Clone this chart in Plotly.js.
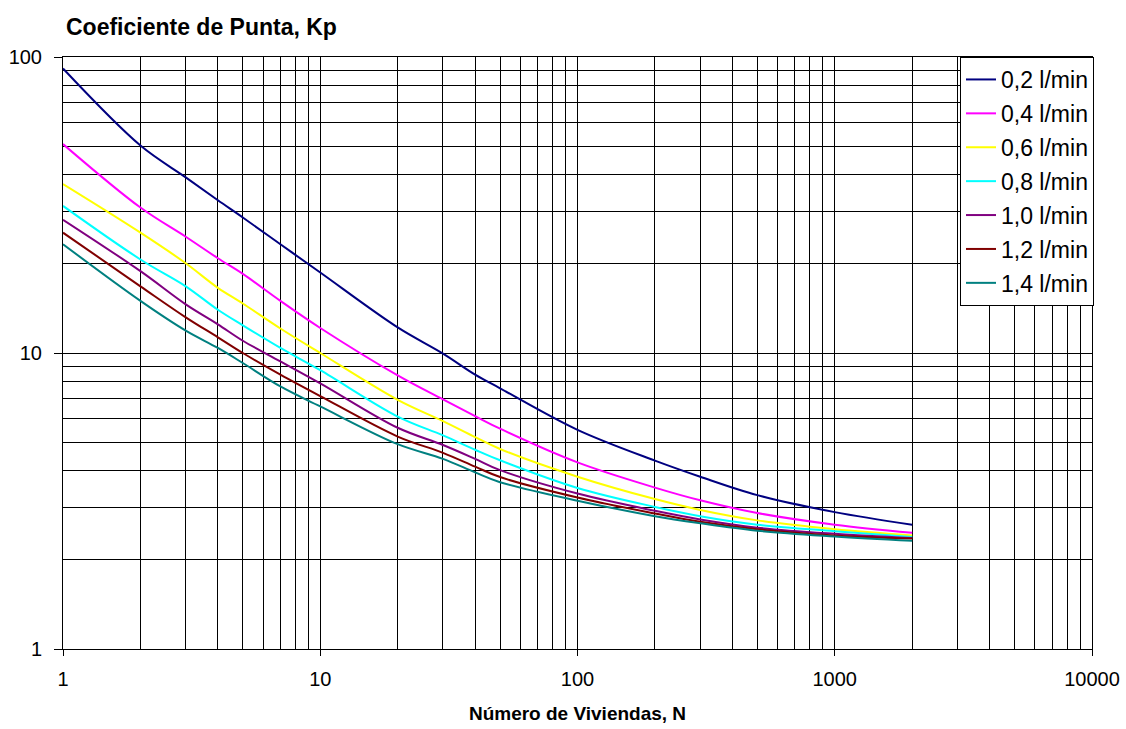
<!DOCTYPE html>
<html>
<head>
<meta charset="utf-8">
<script src="https://cdn.plot.ly/plotly-3.0.1.min.js"></script>
<style>html,body{margin:0;padding:0;background:#fff;}#chart{width:1126px;height:729px;}</style>
</head>
<body>
<div id="chart"></div>
<script>
// Número de viviendas (N)
const viviendas = [1, 2, 3, 4, 5, 7, 10, 20, 30, 40, 50, 100, 200, 300, 500, 1000, 2000];

// Coeficiente de punta Kp for each dotación
const kp02 = [91.4, 50.2, 39.2, 32.8, 28.7, 23.3, 18.7, 12.2, 9.95, 8.45, 7.6, 5.5, 4.33, 3.82, 3.31, 2.90, 2.63];
const kp04 = [50.8, 31.0, 24.7, 20.9, 18.5, 15.0, 12.15, 8.4, 6.97, 6.12, 5.55, 4.27, 3.51, 3.18, 2.88, 2.63, 2.47];
const kp06 = [37.2, 25.5, 20.1, 16.6, 14.7, 12.1, 10.0, 6.95, 5.89, 5.2, 4.74, 3.82, 3.21, 2.95, 2.72, 2.54, 2.42];
const kp08 = [31.4, 20.7, 16.8, 14.0, 12.4, 10.4, 8.75, 6.1, 5.27, 4.71, 4.34, 3.5, 3.02, 2.81, 2.63, 2.50, 2.39];
const kp10 = [28.2, 18.9, 14.6, 12.5, 11.0, 9.37, 7.9, 5.59, 4.89, 4.39, 4.02, 3.35, 2.93, 2.74, 2.57, 2.45, 2.37];
const kp12 = [25.5, 16.8, 13.2, 11.3, 10.0, 8.45, 7.15, 5.22, 4.60, 4.13, 3.81, 3.25, 2.87, 2.69, 2.54, 2.42, 2.36];
const kp14 = [23.3, 15.0, 11.9, 10.4, 9.25, 7.71, 6.6, 4.92, 4.39, 3.95, 3.66, 3.17, 2.81, 2.66, 2.51, 2.40, 2.32];

const seriesNames = ["0,2 l/min", "0,4 l/min", "0,6 l/min", "0,8 l/min", "1,0 l/min", "1,2 l/min", "1,4 l/min"];
const seriesColors = ["#000080", "#FF00FF", "#FFFF00", "#00FFFF", "#800080", "#800000", "#008080"];
const seriesValues = [kp02, kp04, kp06, kp08, kp10, kp12, kp14];

const xTickVals = [1, 10, 100, 1000, 10000];
const xTickText = ["1", "10", "100", "1000", "10000"];
const yTickVals = [1, 10, 100];
const yTickText = ["1", "10", "100"];

const FONT = "Liberation Sans, Arial, Helvetica, sans-serif";

const traces = seriesValues.map((vals, i) => ({
  x: viviendas,
  y: vals,
  type: "scatter",
  mode: "lines",
  name: seriesNames[i],
  legendgroup: "g" + i,
  line: {color: seriesColors[i], width: 2, shape: "spline", smoothing: 1}
}));

const layout = {
  width: 1126,
  height: 729,
  paper_bgcolor: "#fff",
  plot_bgcolor: "#fff",
  margin: {l: 63, r: 34, t: 57, b: 80},
  font: {family: FONT, size: 19, color: "#000"},
  title: {
    text: "<b>Coeficiente de Punta, Kp</b>",
    font: {family: FONT, size: 23, color: "#000"},
    x: 66 / 1126, xref: "container", xanchor: "left",
    y: 1 - 27 / 729, yref: "container", yanchor: "middle"
  },
  xaxis: {
    type: "log",
    range: [0, 4],
    tickmode: "array",
    tickvals: xTickVals,
    ticktext: xTickText,
    ticks: "outside",
    ticklen: 6,
    tickcolor: "#000",
    ticklabelstandoff: 6,
    tickfont: {family: FONT, size: 20},
    showgrid: true,
    gridcolor: "#000",
    gridwidth: 1,
    minor: {dtick: "D1", showgrid: true, gridcolor: "#000", gridwidth: 1, ticks: ""},
    showline: true,
    linecolor: "#000",
    linewidth: 1,
    mirror: true,
    zeroline: false,
    title: {text: "<b>Número de Viviendas, N</b>", font: {family: FONT, size: 19}, standoff: 17}
  },
  yaxis: {
    type: "log",
    range: [0, 2],
    tickmode: "array",
    tickvals: yTickVals,
    ticktext: yTickText,
    ticks: "outside",
    ticklen: 8,
    tickcolor: "#000",
    ticklabelstandoff: 8,
    tickfont: {family: FONT, size: 20},
    showgrid: true,
    gridcolor: "#000",
    gridwidth: 1,
    minor: {dtick: "D1", showgrid: true, gridcolor: "#000", gridwidth: 1, ticks: ""},
    showline: true,
    linecolor: "#000",
    linewidth: 1,
    mirror: true,
    zeroline: false
  },
  legend: {
    x: (960 - 63) / 1029,
    xanchor: "left",
    y: 1,
    yanchor: "top",
    bgcolor: "#fff",
    bordercolor: "#000",
    borderwidth: 1,
    font: {family: FONT, size: 23, color: "#000"},
    itemwidth: 30,
    tracegroupgap: 1
  },
  showlegend: true
};

Plotly.newPlot("chart", traces, layout, {displayModeBar: false, staticPlot: true});
</script>
</body>
</html>
